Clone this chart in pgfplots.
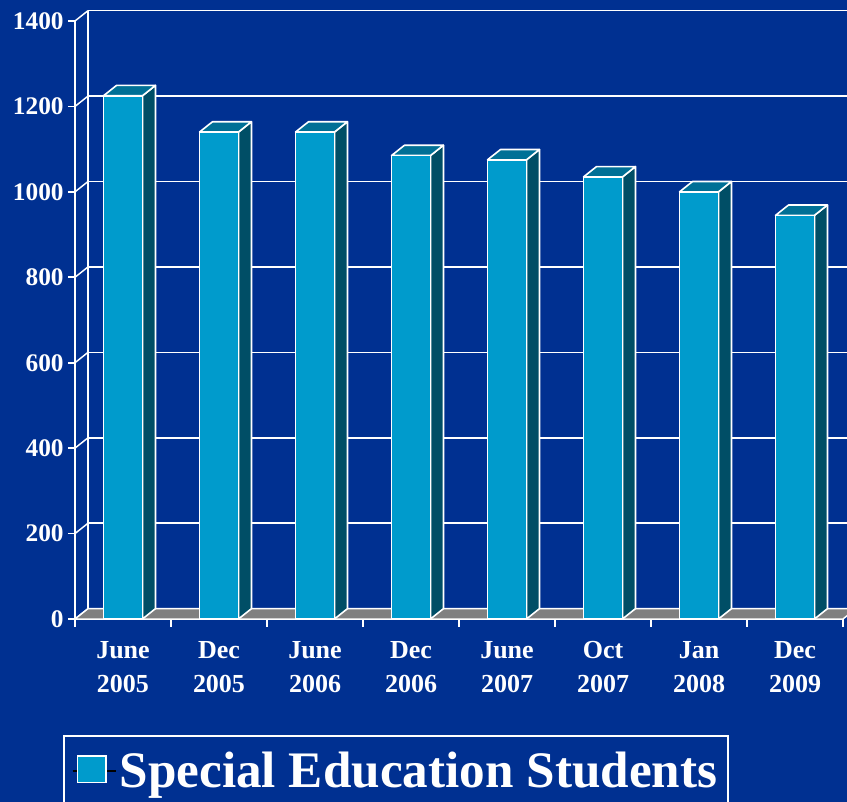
\documentclass[border=0pt]{standalone}
\usepackage{pgfplots}
\pgfplotsset{compat=1.18}
\usepackage{fontspec}
\setmainfont{Liberation Serif}

\definecolor{bg}{RGB}{0,48,145}
\definecolor{barfront}{RGB}{0,155,204}
\definecolor{bartop}{RGB}{0,112,150}
\definecolor{barside}{RGB}{0,78,102}
\definecolor{floorgray}{RGB}{128,128,128}

% 1 px of the reference = 0.75pt
\def\dx{9.75pt}
\def\dy{7.75pt}
\def\bw{14.6pt}
\pgfdeclareplotmark{nothing}{}

\pgfplotstableread{
idx students
0 1225
1 1140
2 1140
3 1085
4 1075
5 1035
6 1000
7 945
}\students

\begin{document}
\begin{tikzpicture}
\path[use as bounding box, fill=bg] (-56.25pt,-137.25pt) rectangle (579pt,464.25pt);
\begin{axis}[
  at={(0,0)}, anchor=south west,
  x=72pt, y=0.32036pt,
  xmin=-0.5, xmax=7.5, ymin=0, ymax=1400,
  clip=false,
  axis x line*=bottom, axis y line*=left,
  axis line style={white, line width=1.3pt},
  every tick/.style={white, line width=1.3pt},
  tick align=outside,
  major tick length=5pt, minor tick length=6pt,
  xtick={0,...,7},
  minor xtick={-0.5,0.5,...,7.5},
  major x tick style={draw=none},
  xticklabels={{June\\2005},{Dec\\2005},{June\\2006},{Dec\\2006},{June\\2007},{Oct\\2007},{Jan\\2008},{Dec\\2009}},
  xticklabel style={align=center, text=white, font=\fontsize{19.5}{26}\selectfont\bfseries, yshift=-8pt},
  ytick={0,200,...,1400},
  yticklabel style={text=white, font=\fontsize{19}{22}\selectfont\bfseries},
  /pgf/number format/assume math mode=true,
  /pgf/number format/1000 sep={},
  ymajorgrids,
  major grid style={white, line width=1.1pt, xshift=\dx, yshift=\dy},
  legend style={at={(0,0)}, anchor=north west, xshift=-9pt, yshift=-87pt,
    draw=white, line width=1.2pt, fill=none, text=white,
    font=\fontsize{38.4}{44}\selectfont\bfseries,
    inner xsep=6pt, inner ysep=10.5pt},
  legend image code/.code={%
    \path (0pt,0pt) -- (32.75pt,0pt);
    \draw[fill=barfront, draw=white, line width=1pt] (3.75pt,-8.5pt) rectangle (25pt,11.5pt);},
]
% back wall edge and joins to the front axis
\draw[white, line width=1.1pt] ([shift={(\dx,\dy)}]axis cs:-0.5,0) -- ([shift={(\dx,\dy)}]axis cs:-0.5,1400);
\pgfplotsinvokeforeach{0,200,400,600,800,1000,1200,1400}{
  \draw[white, line width=1.1pt] (axis cs:-0.5,#1) -- ++(\dx,\dy);
}
% floor
\filldraw[fill=floorgray, draw=white, line width=1.1pt] (axis cs:-0.5,0) -- (axis cs:7.5,0) -- ++(\dx,\dy) -- ([shift={(\dx,\dy)}]axis cs:-0.5,0) -- cycle;

\addplot[scatter, only marks, mark=nothing,
  visualization depends on={rawy \as \val},
  scatter/@pre marker code/.code={%
    \begin{scope}[line width=1.2pt, draw=white, line join=round]
    \pgfkeys{/pgf/fpu=false}%
    \pgfmathsetmacro\h{0.32036*\val}%
    \filldraw[fill=barside] (\bw,0pt) -- ++(\dx,\dy) -- ([shift={(\dx,\dy)}]\bw,-\h pt) -- (\bw,-\h pt) -- cycle;
    \filldraw[fill=bartop] (-\bw,0pt) -- ++(\dx,\dy) -- ([shift={(\dx,\dy)}]\bw,0pt) -- (\bw,0pt) -- cycle;
    \filldraw[fill=barfront] (-\bw,-\h pt) rectangle (\bw,0pt);
  },
  scatter/@post marker code/.code={\end{scope}},
] table[x=idx, y=students] {\students};
\addlegendentry{Special Education Students}
\end{axis}
\end{tikzpicture}
\end{document}
